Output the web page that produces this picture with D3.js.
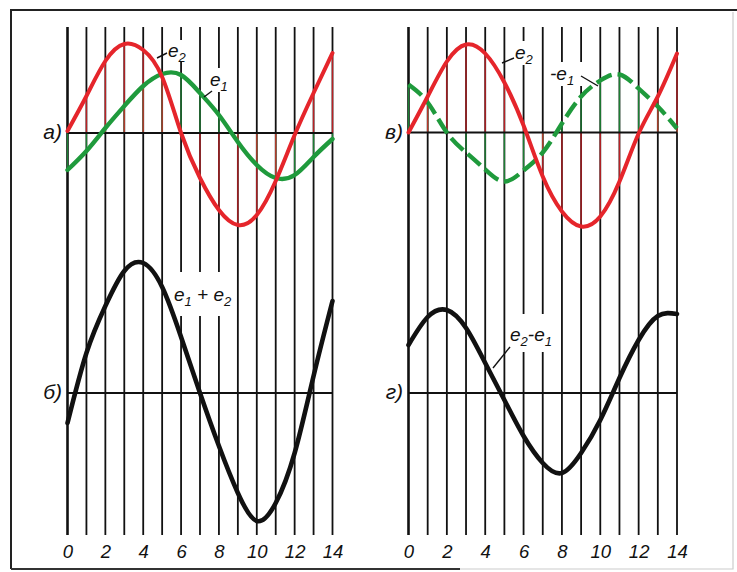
<!DOCTYPE html>
<html>
<head>
<meta charset="utf-8">
<script src="https://cdn.jsdelivr.net/npm/d3@7"></script>
<style>
  body { margin: 0; background: #fff; }
  svg { display: block; }
  text { font-family: "Liberation Sans", Arial, sans-serif; font-style: italic; fill: #111; }
</style>
</head>
<body>
<svg id="chart" width="737" height="572"></svg>
<script>
// ordinates 0..14 and tick labels
const steps = [0, 1, 2, 3, 4, 5, 6, 7, 8, 9, 10, 11, 12, 13, 14];
const tickLabels = [0, 2, 4, 6, 8, 10, 12, 14];

// panel а) (left top)
const e1 = [-37, -18, 5, 27, 47, 59, 58, 40, 18, -9, -32, -45, -42, -24, -6];
const e2 = [2, 37, 72, 89, 83, 56, 0, -45, -77, -92, -82, -48, -2, 40, 80];
// panel б) (left bottom)
const sum = [-30, 40, 87, 122, 130, 106, 56, 0, -53, -100, -128, -110, -60, 17, 92];
// panel в) (right top)
const e2r = [0, 36, 71, 88, 79, 50, 7, -44, -79, -94, -84, -49, -1, 36, 79];
const negE1 = [48, 30, 0, -20, -37, -49, -38, -20, 9, 36, 52, 58, 44, 26, 4];
// panel г) (right bottom)
const diff = [48, 76, 83, 65, 30, -7, -43, -70, -80, -60, -27, 15, 53, 77, 79];

const RED = "#e5252b", GREEN = "#1f9a3c", INK = "#111";

const svg = d3.select("#chart");

const xLeft = d3.scaleLinear().domain([0, 14]).range([67.5, 332.5]);
const xRight = d3.scaleLinear().domain([0, 14]).range([408.5, 677]);
const yAt = axisY => d3.scaleLinear().domain([-100, 100]).range([axisY + 100, axisY - 100]);

const yA = yAt(133), yB = yAt(393), yV = yAt(132.5), yG = yAt(393);

// frame
svg.append("path").attr("d", "M11,569 V10 H737").attr("fill", "none").attr("stroke", "#222").attr("stroke-width", 2);
svg.append("path").attr("d", "M11,569 H460").attr("fill", "none").attr("stroke", "#333").attr("stroke-width", 2);
svg.append("path").attr("d", "M733,12 V569 H460").attr("fill", "none").attr("stroke", "#ccc").attr("stroke-width", 1.2);

function side(x) {
  const g = svg.append("g");
  g.selectAll("line.ord").data(steps).enter().append("line")
    .attr("class", "ord")
    .attr("x1", d => x(d)).attr("x2", d => x(d))
    .attr("y1", 27).attr("y2", 535)
    .attr("stroke", INK)
    .attr("stroke-width", d => d === 0 ? 2.6 : 1.8);
  return g;
}

function colourOrdinates(x, y, vals, colour) {
  svg.append("g").selectAll("line").data(steps).enter().append("line")
    .attr("x1", d => x(d)).attr("x2", d => x(d))
    .attr("y1", y(0)).attr("y2", d => y(vals[d]))
    .attr("stroke", colour).attr("stroke-width", 1.3)
    .attr("stroke-opacity", 0.8);
}

function axisLine(x, y) {
  svg.append("line")
    .attr("x1", x(0)).attr("x2", x(14))
    .attr("y1", y(0)).attr("y2", y(0))
    .attr("stroke", INK).attr("stroke-width", 1.8);
}

function curve(x, y, vals, colour, width, dash) {
  const line = d3.line().x(d => x(d)).y(d => y(vals[d])).curve(d3.curveNatural);
  svg.append("path").datum(steps)
    .attr("d", line)
    .attr("fill", "none")
    .attr("stroke", colour)
    .attr("stroke-width", width)
    .attr("stroke-linecap", dash ? "butt" : "round")
    .attr("stroke-dasharray", dash || null);
}

function ticks(x) {
  const ax = svg.append("g").attr("transform", "translate(0,541)")
    .call(d3.axisBottom(x).tickValues(tickLabels).tickSize(0).tickPadding(4).tickFormat(d3.format("d")));
  ax.select(".domain").remove();
  ax.selectAll("text").attr("font-size", 18.5).attr("font-family", "Liberation Sans, Arial, sans-serif")
    .attr("font-style", "italic").attr("fill", INK);
}

function whiteBox(x, y, w, h) {
  svg.append("rect").attr("x", x).attr("y", y).attr("width", w).attr("height", h).attr("fill", "#fff");
}

// label made of [main, subscript] pairs
function label(x, y, parts) {
  const t = svg.append("text").attr("x", x).attr("y", y).attr("font-size", 19);
  let down = false;
  parts.forEach(([main, sub]) => {
    t.append("tspan").attr("dy", down ? -5 : 0).text(main);
    down = false;
    if (sub) {
      t.append("tspan").attr("dy", 5).attr("font-size", 13).text(sub);
      down = true;
    }
  });
}

function leader(x1, y1, x2, y2) {
  svg.append("line").attr("x1", x1).attr("y1", y1).attr("x2", x2).attr("y2", y2)
    .attr("stroke", INK).attr("stroke-width", 1.4);
}

function panelLetter(x, y, txt) {
  svg.append("text").attr("x", x).attr("y", y).attr("text-anchor", "end")
    .attr("font-size", 21).text(txt);
}

// ---- left side ----
side(xLeft);
colourOrdinates(xLeft, yA, e1, GREEN);
colourOrdinates(xLeft, yA, e2, RED);
whiteBox(168, 40, 20, 22);
whiteBox(208, 68, 22, 24);
whiteBox(170, 272, 58, 44);
axisLine(xLeft, yA);
axisLine(xLeft, yB);
curve(xLeft, yA, e1, GREEN, 4.4);
curve(xLeft, yA, e2, RED, 4);
curve(xLeft, yB, sum, INK, 4.6);
ticks(xLeft);

label(168, 57, [["e", "2"]]);
leader(157, 58, 167, 53);
label(210, 86, [["e", "1"]]);
leader(204, 97, 212, 91);
label(174, 301, [["e", "1"], [" + e", "2"]]);

panelLetter(62, 139, "а)");
panelLetter(62, 399, "б)");

// ---- right side ----
side(xRight);
colourOrdinates(xRight, yV, negE1, GREEN);
colourOrdinates(xRight, yV, e2r, RED);
whiteBox(513, 41, 22, 24);
whiteBox(548, 62, 34, 24);
whiteBox(508, 314, 52, 38);
axisLine(xRight, yV);
axisLine(xRight, yG);
curve(xRight, yV, negE1, GREEN, 4.4, "17,6");
curve(xRight, yV, e2r, RED, 4);
curve(xRight, yG, diff, INK, 4.6);
ticks(xRight);

label(515, 59, [["e", "2"]]);
leader(502, 63, 514, 58);
label(550, 80, [["-e", "1"]]);
leader(581, 76, 598, 86);
label(510, 341, [["e", "2"], ["-e", "1"]]);
leader(493, 368, 510, 347);

panelLetter(403, 139, "в)");
panelLetter(403, 399, "г)");
</script>
</body>
</html>
